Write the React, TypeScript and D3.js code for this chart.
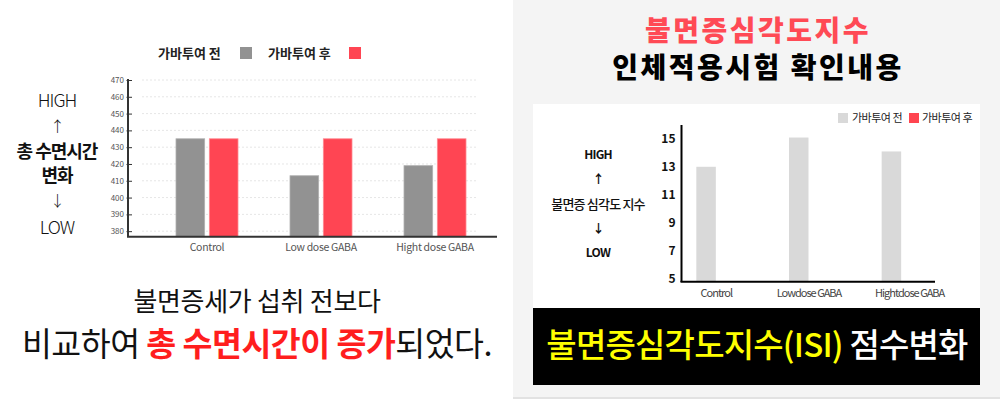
import * as d3 from "d3";
import { useEffect, useRef } from "react";

const FONT = "'Noto Sans CJK KR', 'Noto Sans', sans-serif";

// left chart: total sleep time
const sleepCategories = ["Control", "Low dose GABA", "Hight dose GABA"];
const sleepSeries = ["가바투여 전", "가바투여 후"];
const sleepBefore = [435, 413, 419];
const sleepAfter = [435, 435, 435];
const sleepTicks = [380, 390, 400, 410, 420, 430, 440, 450, 460, 470];

// right chart: insomnia severity index
const isiCategories = ["Control", "Lowdose GABA", "Hightdose GABA"];
const isiSeries = ["가바투여 전", "가바투여 후"];
const isiBefore = [13, 15.1, 14.1];
const isiTicks = [5, 7, 9, 11, 13, 15];

const sideLabelsL = ["HIGH", "↑", "총 수면시간", "변화", "↓", "LOW"];
const sideLabelsR = ["HIGH", "↑", "불면증 심각도 지수", "↓", "LOW"];

export default function App() {
  const ref = useRef<SVGSVGElement | null>(null);

  useEffect(() => {
    if (!ref.current) return;
    const svg = d3.select(ref.current);
    svg.selectAll("*").remove();
    svg.style("font-family", FONT);

    const grayBar = "#929292";
    const redBar = "#ff4553";

    // backgrounds
    svg.append("rect").attr("x", 0).attr("y", 0).attr("width", 1000).attr("height", 399).attr("fill", "#fff");
    svg.append("rect").attr("x", 513).attr("y", 0).attr("width", 487).attr("height", 399).attr("fill", "#f4f4f4");
    svg.append("rect").attr("x", 513).attr("y", 397).attr("width", 487).attr("height", 2).attr("fill", "#e2e2e2");
    svg.append("rect").attr("x", 533).attr("y", 104).attr("width", 447).attr("height", 204).attr("fill", "#fff");
    svg.append("rect").attr("x", 533).attr("y", 308).attr("width", 447).attr("height", 77).attr("fill", "#000");

    // ---------- left chart ----------
    const yL = d3.scaleLinear().domain([376.7, 470]).range([236.7, 80]);
    const x0L = d3.scaleBand<string>().domain(sleepCategories).range([150, 492]);
    const x1L = d3.scaleBand<string>().domain(sleepSeries).range([0, 62]).paddingInner(0.14);
    const gL = svg.append("g");

    gL.selectAll("line.grid")
      .data(sleepTicks)
      .join("line")
      .attr("x1", 142)
      .attr("x2", 477)
      .attr("y1", (d) => yL(d))
      .attr("y2", (d) => yL(d))
      .attr("stroke", "#e6e6e6")
      .attr("stroke-dasharray", "2,2");

    const rowsL = sleepCategories.map((c, i) => ({ c, vals: [sleepBefore[i], sleepAfter[i]] }));
    rowsL.forEach((row) => {
      const gx = (x0L(row.c) ?? 0) + x0L.bandwidth() / 2 - 31;
      row.vals.forEach((v, j) => {
        gL.append("rect")
          .attr("x", gx + (x1L(sleepSeries[j]) ?? 0))
          .attr("y", yL(v))
          .attr("width", x1L.bandwidth())
          .attr("height", yL.range()[0] - yL(v))
          .attr("fill", j === 0 ? grayBar : redBar)
          .attr("stroke", j === 0 ? "#b0b0b0" : "#ff8a92")
          .attr("stroke-width", 0.8);
      });
    });

    const axL = gL.append("g")
      .attr("transform", "translate(128,0)")
      .call(d3.axisLeft(yL).tickValues(sleepTicks).tickSizeInner(-4).tickSizeOuter(0).tickPadding(4));
    axL.select(".domain").attr("stroke", "#333").attr("stroke-width", 2).attr("d", `M0,79V${yL.range()[0]}`);
    axL.selectAll(".tick line").attr("stroke", "#333").attr("x1", -1.5).attr("x2", 4);
    axL.selectAll(".tick text").attr("fill", "#555").style("font-size", "8px").style("font-family", FONT);

    gL.append("line").attr("x1", 127).attr("x2", 497).attr("y1", 236.7).attr("y2", 236.7).attr("stroke", "#333").attr("stroke-width", 2);

    gL.selectAll("text.cat")
      .data(sleepCategories)
      .join("text")
      .attr("x", (d) => (x0L(d) ?? 0) + x0L.bandwidth() / 2)
      .attr("y", 251)
      .attr("text-anchor", "middle")
      .attr("fill", "#555")
      .style("font-size", "10.5px")
      .style("letter-spacing", "-0.3px")
      .text((d) => d);

    // legend left
    [
      { label: sleepSeries[0], color: grayBar, tx: 158, sx: 240 },
      { label: sleepSeries[1], color: redBar, tx: 268, sx: 349 },
    ].forEach((it) => {
      gL.append("text").attr("x", it.tx).attr("y", 58).attr("fill", "#222").style("font-size", "13px").style("font-weight", 700).text(it.label);
      gL.append("rect").attr("x", it.sx).attr("y", 47).attr("width", 12).attr("height", 12).attr("fill", it.color);
    });

    const sideYL = [101, 127, 152, 176, 201, 228];
    sideLabelsL.forEach((t, i) => {
      const bold = i === 2 || i === 3;
      const arrow = i === 1 || i === 4;
      gL.append("text")
        .attr("x", 57)
        .attr("y", sideYL[i])
        .attr("dy", "0.35em")
        .attr("text-anchor", "middle")
        .attr("fill", "#111")
        .style("font-size", arrow ? "15px" : "18px")
        .style("font-weight", bold ? 700 : 300)
        .style("letter-spacing", "-1px")
        .text(t);
    });

    svg.append("text")
      .attr("x", 257).attr("y", 302).attr("dy", "0.35em")
      .attr("text-anchor", "middle").attr("fill", "#111")
      .style("font-size", "26px").style("font-weight", 400).style("letter-spacing", "-0.3px")
      .text("불면증세가 섭취 전보다");

    const line2 = svg.append("text")
      .attr("x", 257).attr("y", 345).attr("dy", "0.35em")
      .attr("text-anchor", "middle").attr("fill", "#111")
      .style("font-size", "32.5px").style("font-weight", 400).style("letter-spacing", "-0.5px");
    line2.append("tspan").text("비교하여 ");
    line2.append("tspan").attr("fill", "#ff1e1e").style("font-weight", 700).text("총 수면시간이 증가");
    line2.append("tspan").text("되었다.");

    // ---------- right panel ----------
    svg.append("text")
      .attr("x", 758).attr("y", 31).attr("dy", "0.35em")
      .attr("text-anchor", "middle").attr("fill", "#ff4a55")
      .style("font-size", "28px").style("font-weight", 900).style("letter-spacing", "2.5px")
      .text("불면증심각도지수");
    svg.append("text")
      .attr("x", 758).attr("y", 68).attr("dy", "0.35em")
      .attr("text-anchor", "middle").attr("fill", "#000")
      .style("font-size", "28px").style("font-weight", 900).style("letter-spacing", "2.5px")
      .text("인체적용시험 확인내용");

    const yR = d3.scaleLinear().domain([4.75, 16]).range([281.7, 125]);
    const x0R = d3.scaleBand<string>().domain(isiCategories).range([670, 948]);
    const x1R = d3.scaleBand<string>().domain(isiSeries).range([0, 40]).paddingInner(0.05);
    const gR = svg.append("g");

    isiCategories.forEach((c, i) => {
      const gx = (x0R(c) ?? 0) + x0R.bandwidth() / 2 - 20;
      gR.append("rect")
        .attr("x", gx + (x1R(isiSeries[0]) ?? 0))
        .attr("y", yR(isiBefore[i]))
        .attr("width", x1R.bandwidth())
        .attr("height", yR.range()[0] - yR(isiBefore[i]))
        .attr("fill", "#d9d9d9");
    });

    const axR = gR.append("g")
      .attr("transform", "translate(681.5,0)")
      .call(d3.axisLeft(yR).tickValues(isiTicks).tickSize(0).tickPadding(6));
    axR.select(".domain").remove();
    axR.selectAll(".tick text").attr("fill", "#111").style("font-size", "12px").style("font-weight", 700).style("font-family", FONT);

    gR.append("line").attr("x1", 681.5).attr("x2", 681.5).attr("y1", 125).attr("y2", 282).attr("stroke", "#000").attr("stroke-width", 2);
    gR.append("line").attr("x1", 680.5).attr("x2", 935).attr("y1", 281.7).attr("y2", 281.7).attr("stroke", "#000").attr("stroke-width", 2);

    gR.selectAll("text.cat")
      .data(isiCategories)
      .join("text")
      .attr("x", (d) => (x0R(d) ?? 0) + x0R.bandwidth() / 2 + (d === isiCategories[2] ? 8 : 0))
      .attr("y", 293).attr("dy", "0.35em")
      .attr("text-anchor", "middle")
      .attr("fill", "#444")
      .style("font-size", "11px")
      .style("letter-spacing", "-1px")
      .text((d) => d);

    [
      { label: isiSeries[0], color: "#d9d9d9", sx: 838, tx: 852 },
      { label: isiSeries[1], color: "#ff4550", sx: 909, tx: 922 },
    ].forEach((it) => {
      gR.append("rect").attr("x", it.sx).attr("y", 113).attr("width", 10).attr("height", 10).attr("fill", it.color);
      gR.append("text").attr("x", it.tx).attr("y", 118).attr("dy", "0.35em").attr("fill", "#222").style("font-size", "11px").style("letter-spacing", "-0.5px").text(it.label);
    });

    const sideYR = [155, 180, 204, 229, 253];
    sideLabelsR.forEach((t, i) => {
      const bold = i !== 2;
      gR.append("text")
        .attr("x", 598).attr("y", sideYR[i]).attr("dy", "0.35em")
        .attr("text-anchor", "middle").attr("fill", "#111")
        .style("font-size", bold ? "12px" : "13px")
        .style("font-weight", bold ? 700 : 500)
        .style("letter-spacing", "-0.8px")
        .text(t);
    });

    const bt = svg.append("text")
      .attr("x", 757).attr("y", 345).attr("dy", "0.35em")
      .attr("text-anchor", "middle")
      .style("font-size", "33px").style("font-weight", 500).style("letter-spacing", "-0.8px");
    bt.append("tspan").attr("fill", "#ffff00").text("불면증심각도지수(ISI)");
    bt.append("tspan").attr("fill", "#fff").text(" 점수변화");
  }, []);

  return (
    <svg
      ref={ref}
      width={1000}
      height={399}
      style={{ position: "absolute", left: 0, top: 0, display: "block" }}
      role="img"
      aria-label="GABA sleep time and ISI charts"
    />
  );
}
